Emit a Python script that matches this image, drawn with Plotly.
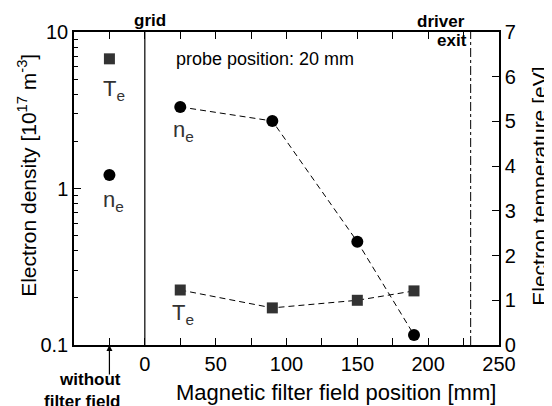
import plotly.graph_objects as go

# data
x_nofield = [-25]
ne_nofield = [1.22]
te_nofield = [6.4]
x_pos = [25, 90, 150, 190]
ne_vals = [3.32, 2.7, 0.457, 0.116]
te_vals = [1.23, 0.83, 1.0, 1.21]
x_ticks = [0, 50, 100, 150, 200, 250]
x_minor = [-25, 25, 75, 125, 175, 225]
y_ticks = [0.1, 1, 10]
y_ticktext = ["0.1", "1", "10"]
y_minor = [0.2, 0.3, 0.4, 0.5, 0.6, 0.7, 0.8, 0.9, 2, 3, 4, 5, 6, 7, 8, 9]
y2_ticks = [0, 1, 2, 3, 4, 5, 6, 7]

FONT = "Liberation Sans, Arial, Helvetica, sans-serif"
fig = go.Figure()

fig.add_trace(go.Scatter(x=x_pos, y=ne_vals, mode="lines+markers",
                         line=dict(color="black", width=1, dash="6px,4px"),
                         marker=dict(symbol="circle", size=12, color="black"),
                         yaxis="y", showlegend=False))
fig.add_trace(go.Scatter(x=x_nofield, y=ne_nofield, mode="markers",
                         marker=dict(symbol="circle", size=12, color="black"),
                         yaxis="y", showlegend=False))
fig.add_trace(go.Scatter(x=x_pos, y=te_vals, mode="lines+markers",
                         line=dict(color="black", width=1, dash="6px,4px"),
                         marker=dict(symbol="square", size=11, color="#333333"),
                         yaxis="y2", showlegend=False))
fig.add_trace(go.Scatter(x=x_nofield, y=te_nofield, mode="markers",
                         marker=dict(symbol="square", size=11, color="#333333"),
                         yaxis="y2", showlegend=False))

fig.add_shape(type="line", xref="x", yref="paper", x0=0, x1=0, y0=0, y1=1,
              line=dict(color="black", width=1.2))
fig.add_shape(type="line", xref="x", yref="paper", x0=230, x1=230, y0=0, y1=1,
              line=dict(color="black", width=1, dash="dashdot"))

ann = []
def add(text, x, y, size=14, bold=False, xanchor="center", yanchor="middle",
        xref="x", yref="paper", color="black", angle=0, align="center"):
    t = f"<b>{text}</b>" if bold else text
    ann.append(dict(text=t, x=x, y=y, xref=xref, yref=yref, showarrow=False,
                    xanchor=xanchor, yanchor=yanchor, textangle=angle, align=align,
                    font=dict(family=FONT, size=size, color=color)))

add("grid", 3.5, 1.038, size=17, bold=True)
add("driver", 227.5, 1.032, size=17, bold=True, xanchor="right")
add("exit", 229, 0.974, size=17, bold=True, xanchor="right")
add("probe position: 20 mm", 84.5, 0.914, size=18)
lab = "#333333"
add("T<sub>e</sub>", -21.5, 0.815, size=22, color=lab)
add("n<sub>e</sub>", -22, 0.46, size=22, color=lab)
add("n<sub>e</sub>", 27, 0.685, size=22, color=lab)
add("T<sub>e</sub>", 27, 0.10, size=22, color=lab)
add("without<br>filter field", -15.5, -0.146, size=17, bold=True, xanchor="right", align="right")
ann.append(dict(x=-25, y=0, xref="x", yref="paper", ax=0, ay=31,
                showarrow=True, arrowhead=2,
                arrowsize=1, arrowwidth=1.2, arrowcolor="black", text=""))
# axis titles
add("Magnetic filter field position [mm]", 0.617, -0.152, size=22, xref="paper")
add("Electron density [10<sup>17</sup> m<sup>-3</sup>]", -0.111, 0.543, size=21, xref="paper", angle=-90)
add("Electron temperature [eV]", 1.096, 0.508, size=21, xref="paper", angle=-90)

# page body has an 8px margin, so the figure is drawn 8px in from the top-left
fig.update_layout(
    width=544, height=398,
    margin=dict(l=66, r=53, t=24, b=61),
    paper_bgcolor="white", plot_bgcolor="white",
    font=dict(family=FONT, size=20, color="black"),
    annotations=ann,
    xaxis=dict(range=[-50, 250], tickvals=x_ticks, ticks="inside", ticklen=7,
               tickwidth=1, tickcolor="black", showline=True, linecolor="black",
               linewidth=1.5, mirror="allticks", showgrid=False, zeroline=False,
               automargin=False,
               minor=dict(tickvals=x_minor, ticks="inside", ticklen=4, tickcolor="black"),
               tickfont=dict(size=20)),
    yaxis=dict(type="log", range=[-1, 1], tickvals=y_ticks, ticktext=y_ticktext,
               ticks="inside", ticklen=7, tickcolor="black", showline=True,
               linecolor="black", linewidth=1.5, showgrid=False, zeroline=False,
               automargin=False,
               minor=dict(ticks="inside", ticklen=4, tickcolor="black", tickvals=y_minor),
               tickfont=dict(size=20)),
    yaxis2=dict(range=[0, 7], tickvals=y2_ticks, overlaying="y", side="right",
                ticks="inside", ticklen=7, tickcolor="black", showline=True,
                linecolor="black", linewidth=1.5, showgrid=False, zeroline=False,
                automargin=False, tickfont=dict(size=20)),
)

fig.write_html("out.html")
